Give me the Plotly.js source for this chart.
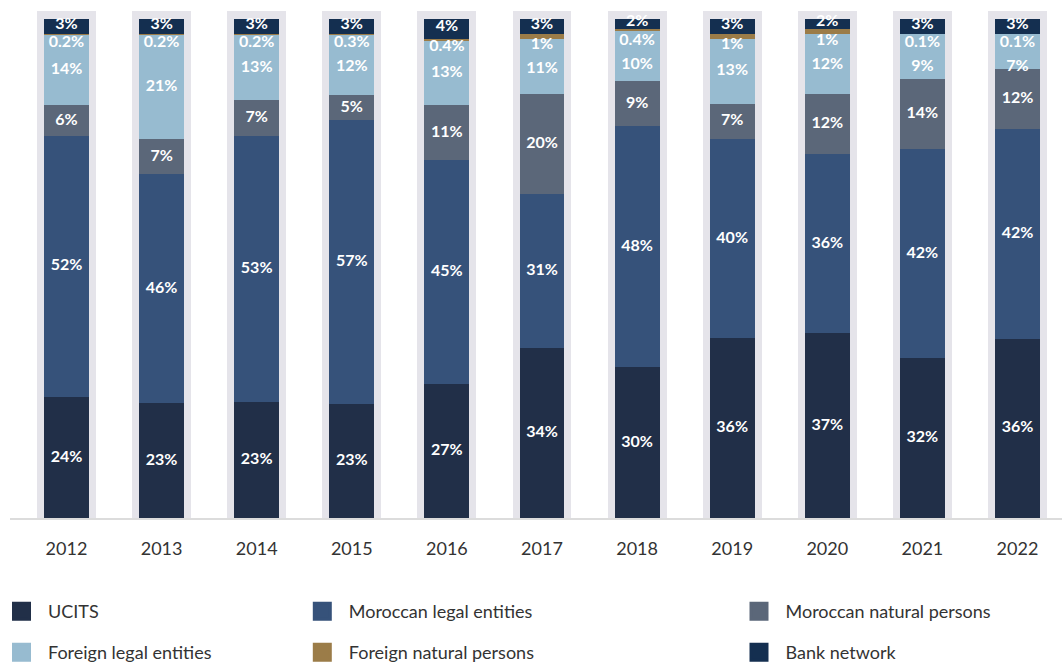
<!DOCTYPE html>
<html>
<head>
<meta charset="utf-8">
<script src="https://cdn.plot.ly/plotly-3.0.1.min.js"></script>
<style>
html,body{margin:0;padding:0;background:#ffffff;}
#chart{width:1062px;height:664px;}
</style>
</head>
<body>
<div id="chart"></div>
<script>
// ---- data (shares in %, as printed on the chart) ----
const years = ['2012','2013','2014','2015','2016','2017','2018','2019','2020','2021','2022'];
const ucits            = [24, 23, 23, 23, 27, 34, 30, 36, 37, 32, 36];
const moroccanLegal    = [52, 46, 53, 57, 45, 31, 48, 40, 36, 42, 42];
const moroccanNatural  = [6, 7, 7, 5, 11, 20, 9, 7, 12, 14, 12];
const foreignLegal     = [14, 21, 13, 12, 13, 11, 10, 13, 12, 9, 7];
const foreignNatural   = [0.2, 0.2, 0.2, 0.3, 0.4, 1, 0.4, 1, 1, 0.1, 0.1];
const bankNetwork      = [3, 3, 3, 3, 4, 3, 2, 3, 2, 3, 3];
const seriesNames = ['UCITS','Moroccan legal entities','Moroccan natural persons',
                     'Foreign legal entities','Foreign natural persons','Bank network'];

// ---- styling ----
const colors = ['#212f48','#36527a','#5b6779','#97bbd0','#9b7c48','#142f50'];
const bgColor = '#e5e4ea';
const W = 1062, H = 664;
const M = {l:10, r:0, t:0, b:145.7};
const plotW = W - M.l - M.r, plotH = H - M.t - M.b;
const yMax = 103.8, bgTop = 101.6;
const barW = 0.473, bgW = 0.62;
const font = 'Lato, "Open Sans", sans-serif';

const series = [ucits, moroccanLegal, moroccanNatural, foreignLegal, foreignNatural, bankNetwork];
const totals = years.map((_, j) => series.reduce((s, a) => s + a[j], 0));
const norm = series.map(a => a.map((v, j) => v / totals[j] * 100));

const traces = [];
// background columns
traces.push({
  type:'bar', x: years, y: years.map(() => bgTop), width: bgW,
  marker:{color: bgColor}, showlegend:false, hoverinfo:'skip'
});
// stacked segments
const bases = [];
let cum = years.map(() => 0);
norm.forEach((a, i) => {
  bases.push(cum.slice());
  traces.push({
    type:'bar', x: years, y: a, base: cum.slice(), width: barW,
    marker:{color: colors[i], line:{width:0}}, name: seriesNames[i],
    showlegend:false, hovertemplate: seriesNames[i] + ': %{y:.1f}%<extra></extra>'
  });
  cum = cum.map((c, j) => c + a[j]);
});
// value label positions (segment middles; small top segments nudged apart)
const labelY = series.map((a, i) => a.map((v, j) => bases[i][j] + norm[i][j] / 2));
labelY[5] = labelY[5].map(y => y + 0.3);
labelY[4] = labelY[4].map((_, j) => Math.min(bases[4][j] - 1.3, labelY[5][j] - 3.7));
labelY[3] = labelY[3].map((y, j) => Math.min(y, labelY[4][j] - 4.8));
series.forEach((a, i) => {
  traces.push({
    type:'scatter', mode:'text', x: years, y: labelY[i],
    text: a.map(v => v + '%'), textposition:'middle center',
    textfont:{family: font, size:16, color:'#ffffff', weight:700},
    showlegend:false, hoverinfo:'skip', cliponaxis:false
  });
});
// legend entries (three columns)
const legendOf = ['legend','legend2','legend3','legend','legend2','legend3'];
seriesNames.forEach((n, i) => {
  traces.push({
    type:'scatter', mode:'markers', x:[null], y:[null], name:n,
    legend: legendOf[i], legendgroup: 'g' + i,
    marker:{symbol:'square', size:16, color: colors[i], line:{color: colors[i], width:3}},
    showlegend:true, hoverinfo:'skip'
  });
});

const legY = (plotH - 593.3) / plotH;
function leg(px) {
  return {
    x: (px - M.l) / plotW, xanchor:'left', y: legY, yanchor:'top',
    orientation:'v', bgcolor:'rgba(0,0,0,0)', borderwidth:0,
    font:{family: font, size:18, color:'#333333'},
    itemwidth:43, tracegroupgap:14.6, itemclick:false, itemdoubleclick:false
  };
}

const layout = {
  width: W, height: H,
  margin: {l:M.l, r:M.r, t:M.t, b:M.b, autoexpand:false},
  paper_bgcolor:'#ffffff', plot_bgcolor:'#ffffff',
  barmode:'overlay', bargap:0,
  font:{family: font, color:'#333333'},
  xaxis:{
    type:'category', range:[-0.594, 10.468], fixedrange:true,
    showline:true, linecolor:'#dcdcdc', linewidth:2,
    showgrid:false, zeroline:false, ticks:'',
    tickfont:{family: font, size:18, color:'#333333'},
    ticklabelstandoff:13
  },
  yaxis:{range:[0, yMax], visible:false, fixedrange:true},
  legend: leg(-5), legend2: leg(295.8), legend3: leg(732.5),
  showlegend:true
};

Plotly.newPlot('chart', traces, layout, {displayModeBar:false, staticPlot:true});
</script>
</body>
</html>
